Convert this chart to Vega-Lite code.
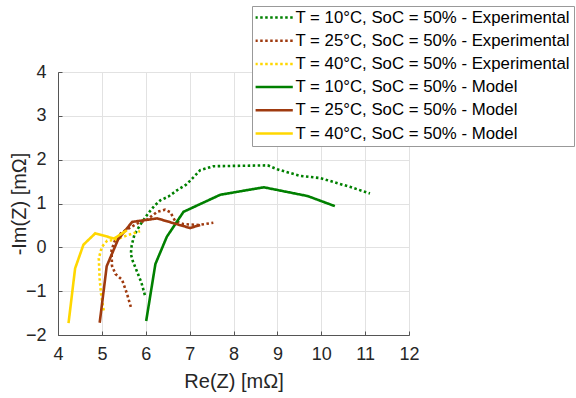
{
  "$schema": "https://vega.github.io/schema/vega-lite/v6.json",
  "width": 351,
  "height": 263,
  "autosize": {"type": "none"},
  "padding": {"left": 58, "top": 72, "right": 167, "bottom": 63},
  "background": "white",
  "config": {
    "font": "Liberation Sans",
    "view": {"stroke": "#555555", "strokeWidth": 1},
    "axis": {
      "grid": true,
      "gridColor": "#e2e2e2",
      "gridWidth": 1,
      "domainColor": "#555555",
      "tickColor": "#555555",
      "labelColor": "#262626",
      "titleColor": "#262626",
      "labelFontSize": 18,
      "titleFontSize": 20,
      "titleFontWeight": "normal"
    }
  },
  "data": {
    "values": [
      {"series": "T = 10°C, SoC = 50% - Experimental", "i": 1, "re": 5.98, "im": -1.09},
      {"series": "T = 10°C, SoC = 50% - Experimental", "i": 2, "re": 5.90, "im": -0.80},
      {"series": "T = 10°C, SoC = 50% - Experimental", "i": 3, "re": 5.80, "im": -0.55},
      {"series": "T = 10°C, SoC = 50% - Experimental", "i": 4, "re": 5.70, "im": -0.30},
      {"series": "T = 10°C, SoC = 50% - Experimental", "i": 5, "re": 5.66, "im": -0.15},
      {"series": "T = 10°C, SoC = 50% - Experimental", "i": 6, "re": 5.68, "im": 0.05},
      {"series": "T = 10°C, SoC = 50% - Experimental", "i": 7, "re": 5.74, "im": 0.28},
      {"series": "T = 10°C, SoC = 50% - Experimental", "i": 8, "re": 5.87, "im": 0.51},
      {"series": "T = 10°C, SoC = 50% - Experimental", "i": 9, "re": 6.06, "im": 0.78},
      {"series": "T = 10°C, SoC = 50% - Experimental", "i": 10, "re": 6.20, "im": 0.95},
      {"series": "T = 10°C, SoC = 50% - Experimental", "i": 11, "re": 6.33, "im": 1.07},
      {"series": "T = 10°C, SoC = 50% - Experimental", "i": 12, "re": 6.52, "im": 1.16},
      {"series": "T = 10°C, SoC = 50% - Experimental", "i": 13, "re": 6.71, "im": 1.30},
      {"series": "T = 10°C, SoC = 50% - Experimental", "i": 14, "re": 6.92, "im": 1.43},
      {"series": "T = 10°C, SoC = 50% - Experimental", "i": 15, "re": 7.09, "im": 1.60},
      {"series": "T = 10°C, SoC = 50% - Experimental", "i": 16, "re": 7.24, "im": 1.76},
      {"series": "T = 10°C, SoC = 50% - Experimental", "i": 17, "re": 7.54, "im": 1.85},
      {"series": "T = 10°C, SoC = 50% - Experimental", "i": 18, "re": 8.15, "im": 1.86},
      {"series": "T = 10°C, SoC = 50% - Experimental", "i": 19, "re": 8.78, "im": 1.87},
      {"series": "T = 10°C, SoC = 50% - Experimental", "i": 20, "re": 9.00, "im": 1.78},
      {"series": "T = 10°C, SoC = 50% - Experimental", "i": 21, "re": 9.52, "im": 1.63},
      {"series": "T = 10°C, SoC = 50% - Experimental", "i": 22, "re": 9.98, "im": 1.58},
      {"series": "T = 10°C, SoC = 50% - Experimental", "i": 23, "re": 10.28, "im": 1.49},
      {"series": "T = 10°C, SoC = 50% - Experimental", "i": 24, "re": 10.65, "im": 1.38},
      {"series": "T = 10°C, SoC = 50% - Experimental", "i": 25, "re": 11.11, "im": 1.23},

      {"series": "T = 25°C, SoC = 50% - Experimental", "i": 1, "re": 5.66, "im": -1.36},
      {"series": "T = 25°C, SoC = 50% - Experimental", "i": 2, "re": 5.57, "im": -1.05},
      {"series": "T = 25°C, SoC = 50% - Experimental", "i": 3, "re": 5.46, "im": -0.74},
      {"series": "T = 25°C, SoC = 50% - Experimental", "i": 4, "re": 5.31, "im": -0.61},
      {"series": "T = 25°C, SoC = 50% - Experimental", "i": 5, "re": 5.23, "im": -0.42},
      {"series": "T = 25°C, SoC = 50% - Experimental", "i": 6, "re": 5.22, "im": -0.06},
      {"series": "T = 25°C, SoC = 50% - Experimental", "i": 7, "re": 5.30, "im": 0.16},
      {"series": "T = 25°C, SoC = 50% - Experimental", "i": 8, "re": 5.45, "im": 0.34},
      {"series": "T = 25°C, SoC = 50% - Experimental", "i": 9, "re": 5.80, "im": 0.54},
      {"series": "T = 25°C, SoC = 50% - Experimental", "i": 10, "re": 6.03, "im": 0.63},
      {"series": "T = 25°C, SoC = 50% - Experimental", "i": 11, "re": 6.26, "im": 0.81},
      {"series": "T = 25°C, SoC = 50% - Experimental", "i": 12, "re": 6.44, "im": 0.86},
      {"series": "T = 25°C, SoC = 50% - Experimental", "i": 13, "re": 6.56, "im": 0.80},
      {"series": "T = 25°C, SoC = 50% - Experimental", "i": 14, "re": 6.67, "im": 0.60},
      {"series": "T = 25°C, SoC = 50% - Experimental", "i": 15, "re": 6.86, "im": 0.53},
      {"series": "T = 25°C, SoC = 50% - Experimental", "i": 16, "re": 7.20, "im": 0.51},
      {"series": "T = 25°C, SoC = 50% - Experimental", "i": 17, "re": 7.54, "im": 0.56},

      {"series": "T = 40°C, SoC = 50% - Experimental", "i": 1, "re": 5.04, "im": -1.44},
      {"series": "T = 40°C, SoC = 50% - Experimental", "i": 2, "re": 4.98, "im": -1.05},
      {"series": "T = 40°C, SoC = 50% - Experimental", "i": 3, "re": 4.95, "im": -0.72},
      {"series": "T = 40°C, SoC = 50% - Experimental", "i": 4, "re": 4.93, "im": -0.25},
      {"series": "T = 40°C, SoC = 50% - Experimental", "i": 5, "re": 5.00, "im": 0.01},
      {"series": "T = 40°C, SoC = 50% - Experimental", "i": 6, "re": 5.12, "im": 0.15},
      {"series": "T = 40°C, SoC = 50% - Experimental", "i": 7, "re": 5.30, "im": 0.17},
      {"series": "T = 40°C, SoC = 50% - Experimental", "i": 8, "re": 5.57, "im": 0.27},
      {"series": "T = 40°C, SoC = 50% - Experimental", "i": 9, "re": 5.87, "im": 0.37},

      {"series": "T = 10°C, SoC = 50% - Model", "i": 1, "re": 6.01, "im": -1.68},
      {"series": "T = 10°C, SoC = 50% - Model", "i": 2, "re": 6.22, "im": -0.38},
      {"series": "T = 10°C, SoC = 50% - Model", "i": 3, "re": 6.48, "im": 0.24},
      {"series": "T = 10°C, SoC = 50% - Model", "i": 4, "re": 6.86, "im": 0.81},
      {"series": "T = 10°C, SoC = 50% - Model", "i": 5, "re": 7.70, "im": 1.20},
      {"series": "T = 10°C, SoC = 50% - Model", "i": 6, "re": 8.69, "im": 1.37},
      {"series": "T = 10°C, SoC = 50% - Model", "i": 7, "re": 9.69, "im": 1.17},
      {"series": "T = 10°C, SoC = 50% - Model", "i": 8, "re": 10.31, "im": 0.94},

      {"series": "T = 25°C, SoC = 50% - Model", "i": 1, "re": 4.95, "im": -1.72},
      {"series": "T = 25°C, SoC = 50% - Model", "i": 2, "re": 5.11, "im": -0.43},
      {"series": "T = 25°C, SoC = 50% - Model", "i": 3, "re": 5.37, "im": 0.18},
      {"series": "T = 25°C, SoC = 50% - Model", "i": 4, "re": 5.69, "im": 0.58},
      {"series": "T = 25°C, SoC = 50% - Model", "i": 5, "re": 6.26, "im": 0.66},
      {"series": "T = 25°C, SoC = 50% - Model", "i": 6, "re": 6.67, "im": 0.54},
      {"series": "T = 25°C, SoC = 50% - Model", "i": 7, "re": 7.01, "im": 0.44},
      {"series": "T = 25°C, SoC = 50% - Model", "i": 8, "re": 7.24, "im": 0.51},

      {"series": "T = 40°C, SoC = 50% - Model", "i": 1, "re": 4.24, "im": -1.73},
      {"series": "T = 40°C, SoC = 50% - Model", "i": 2, "re": 4.39, "im": -0.48},
      {"series": "T = 40°C, SoC = 50% - Model", "i": 3, "re": 4.58, "im": 0.06},
      {"series": "T = 40°C, SoC = 50% - Model", "i": 4, "re": 4.85, "im": 0.32},
      {"series": "T = 40°C, SoC = 50% - Model", "i": 5, "re": 5.28, "im": 0.20},
      {"series": "T = 40°C, SoC = 50% - Model", "i": 6, "re": 5.57, "im": 0.39}
    ]
  },
  "mark": {"type": "line", "strokeWidth": 2.6, "clip": true},
  "encoding": {
    "x": {
      "field": "re",
      "type": "quantitative",
      "scale": {"domain": [4, 12], "nice": false, "zero": false},
      "axis": {
        "title": "Re(Z) [mΩ]",
        "values": [4, 5, 6, 7, 8, 9, 10, 11, 12],
        "ticks": true,
        "tickSize": -4,
        "labelPadding": 14,
        "labelFlush": false,
        "titleX": 175.5,
        "titleY": 52,
        "titleBaseline": "alphabetic",
        "titleAnchor": "middle"
      }
    },
    "y": {
      "field": "im",
      "type": "quantitative",
      "scale": {"domain": [-2, 4], "nice": false, "zero": false},
      "axis": {
        "title": "-Im(Z) [mΩ]",
        "values": [-2, -1, 0, 1, 2, 3, 4],
        "ticks": true,
        "tickSize": -4,
        "labelPadding": 16,
        "labelFlush": false,
        "titleX": -33,
        "titleY": 131.5,
        "titleBaseline": "alphabetic",
        "titleAnchor": "middle"
      }
    },
    "order": {"field": "i", "type": "quantitative"},
    "color": {
      "field": "series",
      "type": "nominal",
      "scale": {
        "domain": [
          "T = 10°C, SoC = 50% - Experimental",
          "T = 25°C, SoC = 50% - Experimental",
          "T = 40°C, SoC = 50% - Experimental",
          "T = 10°C, SoC = 50% - Model",
          "T = 25°C, SoC = 50% - Model",
          "T = 40°C, SoC = 50% - Model"
        ],
        "range": ["#008000", "#9f3a0f", "#ffd700", "#008000", "#9f3a0f", "#ffd700"]
      },
      "legend": {
        "title": null,
        "orient": "none",
        "legendX": 194,
        "legendY": -66,
        "symbolType": "stroke",
        "symbolSize": 1414,
        "symbolStrokeWidth": 2.5,
        "symbolOffset": -2,
        "clipHeight": 16,
        "labelFontSize": 16.8,
        "labelColor": "#000000",
        "labelOffset": 1,
        "labelLimit": 400,
        "rowPadding": 6.2,
        "padding": 3.5,
        "strokeColor": "#999999",
        "fillColor": "#ffffff"
      }
    },
    "strokeDash": {
      "field": "series",
      "type": "nominal",
      "scale": {
        "domain": [
          "T = 10°C, SoC = 50% - Experimental",
          "T = 25°C, SoC = 50% - Experimental",
          "T = 40°C, SoC = 50% - Experimental",
          "T = 10°C, SoC = 50% - Model",
          "T = 25°C, SoC = 50% - Model",
          "T = 40°C, SoC = 50% - Model"
        ],
        "range": [[2.5, 2.5], [2.5, 2.5], [2.5, 2.5], [1, 0], [1, 0], [1, 0]]
      },
      "legend": {
        "title": null,
        "orient": "none",
        "legendX": 194,
        "legendY": -66
      }
    }
  }
}
